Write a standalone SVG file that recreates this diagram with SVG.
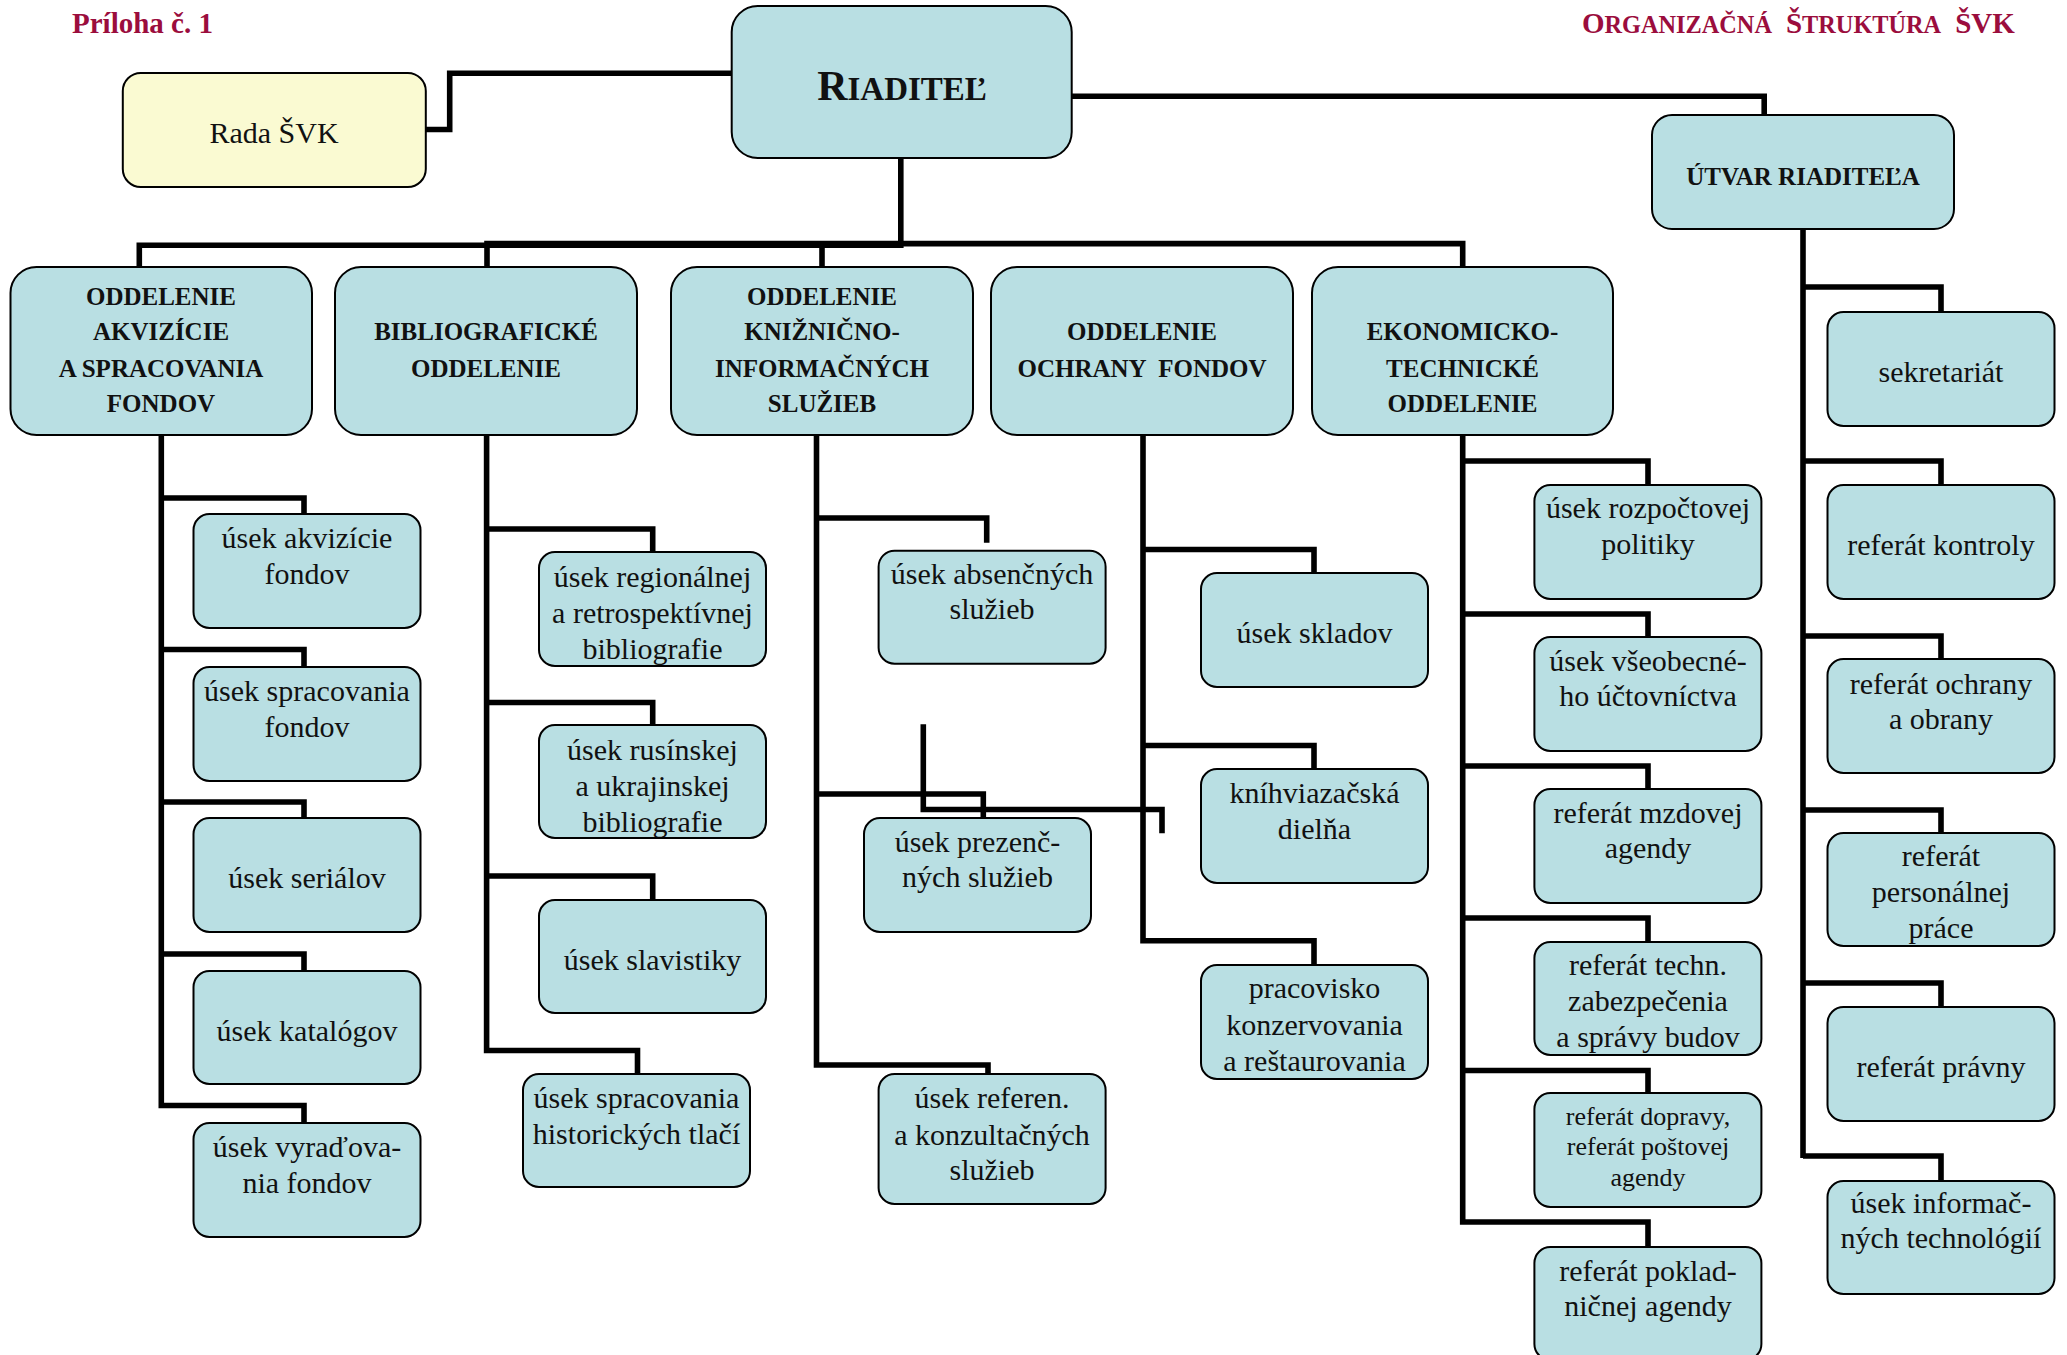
<svg xmlns="http://www.w3.org/2000/svg" width="2067" height="1355" viewBox="0 0 2067 1355">
<style>
.bx{fill:#B9DFE3;stroke:#000;stroke-width:2}
.yl{fill:#FAFAD2;stroke:#000;stroke-width:2}
.t{font-family:"Liberation Serif","Times New Roman",serif;font-size:30px;text-anchor:middle;fill:#111}
.d{font-weight:bold;font-size:25px}
.s{font-size:26px}
.c{stroke:#000;stroke-width:5.6;fill:none;stroke-linejoin:miter;stroke-linecap:butt}
.h{font-family:"Liberation Serif","Times New Roman",serif;font-weight:bold;fill:#9B0D3D}
</style>
<defs>
<clipPath id="cp1"><rect x="540" y="553" width="225" height="112"/></clipPath>
<clipPath id="cp2"><rect x="540" y="726" width="225" height="111"/></clipPath>
<clipPath id="cp3"><rect x="1535" y="943" width="225" height="111"/></clipPath>
<clipPath id="cp4"><rect x="1828" y="834" width="225" height="111"/></clipPath>
</defs>
<rect width="2067" height="1355" fill="#fff"/>
<g id="titles">
<text class="h" x="72" y="33" font-size="29">Príloha č. 1</text>
<text class="h" x="1582" y="33"><tspan font-size="29">O</tspan><tspan font-size="24.3">RGANIZAČNÁ</tspan><tspan dx="14" font-size="29">Š</tspan><tspan font-size="24.3">TRUKTÚRA</tspan><tspan dx="14" font-size="29">ŠVK</tspan></text>
</g>
<g id="connectors">
<path class="c" d="M425.8 129.5H449.7V73.3H731.7"/>
<path class="c" d="M1071.9 96.2H1764.2V115"/>
<path class="c" d="M900.8 158V248"/>
<path class="c" d="M139.3 267V245.3H903"/>
<path class="c" d="M487 267.5V243.6H1462.7V267"/>
<path class="c" d="M822 243.6V267.5"/>
<path class="c" d="M1803 229V1158"/>
<path class="c" d="M161.3 435V1105.5H304V1123"/>
<path class="c" d="M161.3 498H304V514"/>
<path class="c" d="M161.3 649.5H304V667"/>
<path class="c" d="M161.3 802H304V818"/>
<path class="c" d="M161.3 954H304V978"/>
<path class="c" d="M486.6 435V1050.5H637.5V1074"/>
<path class="c" d="M486.6 529H652.7V552"/>
<path class="c" d="M486.6 702.5H652.7V725"/>
<path class="c" d="M486.6 876H652.7V900"/>
<path class="c" d="M816.5 435V1065H988V1074"/>
<path class="c" d="M816.5 518H986.7V542.7"/>
<path class="c" d="M816.5 794H983.3V818"/>
<path class="c" d="M923.3 724.3V809.5H1162V833.3"/>
<path class="c" d="M1143 435V940.7H1314V965"/>
<path class="c" d="M1143 549.5H1314V573"/>
<path class="c" d="M1143 745.5H1314V769"/>
<path class="c" d="M1462.7 435V1222H1648V1247"/>
<path class="c" d="M1462.7 461H1648V485"/>
<path class="c" d="M1462.7 614H1648V637"/>
<path class="c" d="M1462.7 766H1648V789"/>
<path class="c" d="M1462.7 918H1648V942"/>
<path class="c" d="M1462.7 1070.5H1648V1093"/>
<path class="c" d="M1803 287H1941V312"/>
<path class="c" d="M1803 461H1941V485"/>
<path class="c" d="M1803 636H1941V659"/>
<path class="c" d="M1803 810H1941V833"/>
<path class="c" d="M1803 983H1941V1007"/>
<path class="c" d="M1803 1156H1941V1181"/>
</g>
<g id="riaditel">
<rect class="bx" x="731.7" y="6" width="340" height="152" rx="26"/>
<text class="t" x="902" y="100" font-weight="bold"><tspan font-size="42">R</tspan><tspan font-size="33">IADITEĽ</tspan></text>
</g>
<g id="rada">
<rect class="yl" x="122.8" y="73" width="303" height="114" rx="18"/>
<text class="t" x="274" y="143">Rada ŠVK</text>
</g>
<g id="utvar">
<rect class="bx" x="1652" y="115" width="302" height="114" rx="20"/>
<text class="t d" x="1803" y="185">ÚTVAR RIADITEĽA</text>
</g>
<g id="dept1">
<rect class="bx" x="10.5" y="267" width="301.5" height="168" rx="26"/>
<text class="t d" x="161" y="305">ODDELENIE</text>
<text class="t d" x="161" y="340">AKVIZÍCIE</text>
<text class="t d" x="161" y="376.7">A SPRACOVANIA</text>
<text class="t d" x="161" y="411.7">FONDOV</text>
</g>
<g id="dept2">
<rect class="bx" x="335" y="267" width="302" height="168" rx="26"/>
<text class="t d" x="486" y="340">BIBLIOGRAFICKÉ</text>
<text class="t d" x="486" y="376.7">ODDELENIE</text>
</g>
<g id="dept3">
<rect class="bx" x="671" y="267" width="302" height="168" rx="26"/>
<text class="t d" x="822" y="305">ODDELENIE</text>
<text class="t d" x="822" y="340">KNIŽNIČNO-</text>
<text class="t d" x="822" y="376.7">INFORMAČNÝCH</text>
<text class="t d" x="822" y="411.7">SLUŽIEB</text>
</g>
<g id="dept4">
<rect class="bx" x="991" y="267" width="302" height="168" rx="26"/>
<text class="t d" x="1142" y="340">ODDELENIE</text>
<text class="t d" x="1142" y="376.7" xml:space="preserve">OCHRANY  FONDOV</text>
</g>
<g id="dept5">
<rect class="bx" x="1312" y="267" width="301" height="168" rx="26"/>
<text class="t d" x="1462.5" y="340">EKONOMICKO-</text>
<text class="t d" x="1462.5" y="376.7">TECHNICKÉ</text>
<text class="t d" x="1462.5" y="411.7">ODDELENIE</text>
</g>
<g id="akvizicie"><rect class="bx" x="193.5" y="514" width="227" height="114" rx="16"/>
<text class="t" x="307" y="548">úsek akvizície</text><text class="t" x="307" y="584">fondov</text></g>
<g id="spracovania"><rect class="bx" x="193.5" y="667" width="227" height="114" rx="16"/>
<text class="t" x="307" y="701">úsek spracovania</text><text class="t" x="307" y="737">fondov</text></g>
<g id="serialov"><rect class="bx" x="193.5" y="818" width="227" height="114" rx="16"/>
<text class="t" x="307" y="888">úsek seriálov</text></g>
<g id="katalogov"><rect class="bx" x="193.5" y="971" width="227" height="113" rx="16"/>
<text class="t" x="307" y="1041">úsek katalógov</text></g>
<g id="vyradovania"><rect class="bx" x="193.5" y="1123" width="227" height="114" rx="16"/>
<text class="t" x="307" y="1157">úsek vyraďova-</text><text class="t" x="307" y="1193">nia fondov</text></g>
<g id="regionalnej"><rect class="bx" x="539" y="552" width="227" height="114" rx="16"/>
<g clip-path="url(#cp1)"><text class="t" x="652.5" y="587">úsek regionálnej</text><text class="t" x="652.5" y="623">a retrospektívnej</text><text class="t" x="652.5" y="659">bibliografie</text></g></g>
<g id="rusinskej"><rect class="bx" x="539" y="725" width="227" height="113" rx="16"/>
<g clip-path="url(#cp2)"><text class="t" x="652.5" y="760">úsek rusínskej</text><text class="t" x="652.5" y="796">a ukrajinskej</text><text class="t" x="652.5" y="832">bibliografie</text></g></g>
<g id="slavistiky"><rect class="bx" x="539" y="900" width="227" height="113" rx="16"/>
<text class="t" x="652.5" y="970">úsek slavistiky</text></g>
<g id="historickych"><rect class="bx" x="523" y="1074" width="227" height="113" rx="16"/>
<text class="t" x="636.5" y="1108">úsek spracovania</text><text class="t" x="636.5" y="1144">historických tlačí</text></g>
<g id="absencnych"><rect class="bx" x="878.6" y="550.7" width="227" height="113" rx="16"/>
<text class="t" x="992" y="584">úsek absenčných</text><text class="t" x="992" y="619">služieb</text></g>
<g id="prezencnych"><rect class="bx" x="864" y="818" width="227" height="114" rx="16"/>
<text class="t" x="977.5" y="852">úsek prezenč-</text><text class="t" x="977.5" y="887">ných služieb</text></g>
<g id="referen"><rect class="bx" x="878.6" y="1074" width="227" height="130" rx="16"/>
<text class="t" x="992" y="1108">úsek referen.</text><text class="t" x="992" y="1145">a konzultačných</text><text class="t" x="992" y="1180">služieb</text></g>
<g id="skladov"><rect class="bx" x="1201" y="573" width="227" height="114" rx="16"/>
<text class="t" x="1314.5" y="643">úsek skladov</text></g>
<g id="knihviazacska"><rect class="bx" x="1201" y="769" width="227" height="114" rx="16"/>
<text class="t" x="1314.5" y="803">kníhviazačská</text><text class="t" x="1314.5" y="839">dielňa</text></g>
<g id="pracovisko"><rect class="bx" x="1201" y="965" width="227" height="114" rx="16"/>
<text class="t" x="1314.5" y="998">pracovisko</text><text class="t" x="1314.5" y="1035">konzervovania</text><text class="t" x="1314.5" y="1071">a reštaurovania</text></g>
<g id="rozpoctovej"><rect class="bx" x="1534.4" y="485" width="227" height="114" rx="16"/>
<text class="t" x="1648" y="518">úsek rozpočtovej</text><text class="t" x="1648" y="554">politiky</text></g>
<g id="vseobecneho"><rect class="bx" x="1534.4" y="637" width="227" height="114" rx="16"/>
<text class="t" x="1648" y="671">úsek všeobecné-</text><text class="t" x="1648" y="706">ho účtovníctva</text></g>
<g id="mzdovej"><rect class="bx" x="1534.4" y="789" width="227" height="114" rx="16"/>
<text class="t" x="1648" y="823">referát mzdovej</text><text class="t" x="1648" y="858">agendy</text></g>
<g id="techn"><rect class="bx" x="1534.4" y="942" width="227" height="113" rx="16"/>
<g clip-path="url(#cp3)"><text class="t" x="1648" y="975">referát techn.</text><text class="t" x="1648" y="1011">zabezpečenia</text><text class="t" x="1648" y="1047">a správy budov</text></g></g>
<g id="dopravy"><rect class="bx" x="1534.4" y="1093" width="227" height="114" rx="16"/>
<text class="t s" x="1648" y="1125">referát dopravy,</text><text class="t s" x="1648" y="1155">referát poštovej</text><text class="t s" x="1648" y="1186">agendy</text></g>
<g id="pokladnicnej"><rect class="bx" x="1534.4" y="1247" width="227" height="113" rx="16"/>
<text class="t" x="1648" y="1281">referát poklad-</text><text class="t" x="1648" y="1316">ničnej agendy</text></g>
<g id="sekretariat"><rect class="bx" x="1827.5" y="312" width="227" height="114" rx="16"/>
<text class="t" x="1941" y="382">sekretariát</text></g>
<g id="kontroly"><rect class="bx" x="1827.5" y="485" width="227" height="114" rx="16"/>
<text class="t" x="1941" y="555">referát kontroly</text></g>
<g id="ochrany"><rect class="bx" x="1827.5" y="659" width="227" height="114" rx="16"/>
<text class="t" x="1941" y="694">referát ochrany</text><text class="t" x="1941" y="729">a obrany</text></g>
<g id="personalnej"><rect class="bx" x="1827.5" y="833" width="227" height="113" rx="16"/>
<g clip-path="url(#cp4)"><text class="t" x="1941" y="866">referát</text><text class="t" x="1941" y="902">personálnej</text><text class="t" x="1941" y="938">práce</text></g></g>
<g id="pravny"><rect class="bx" x="1827.5" y="1007" width="227" height="114" rx="16"/>
<text class="t" x="1941" y="1077">referát právny</text></g>
<g id="informacnych"><rect class="bx" x="1827.5" y="1181" width="227" height="113" rx="16"/>
<text class="t" x="1941" y="1213">úsek informač-</text><text class="t" x="1941" y="1248">ných technológií</text></g>
</svg>
